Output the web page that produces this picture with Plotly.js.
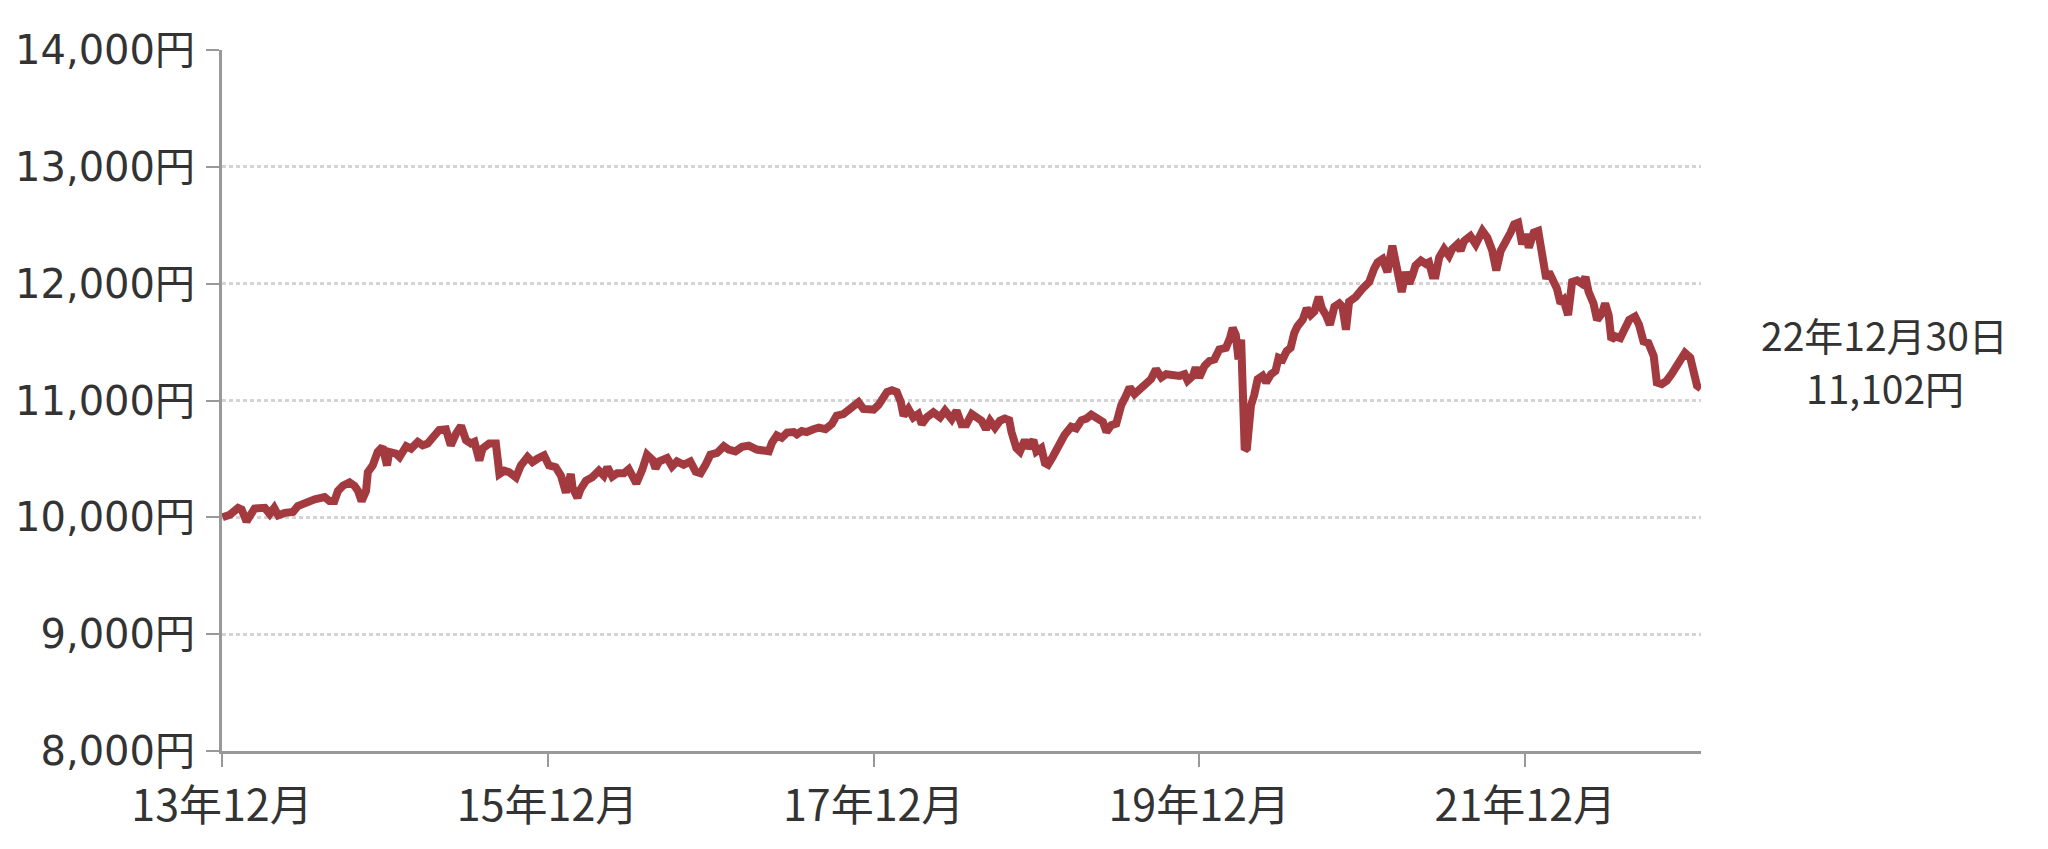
<!DOCTYPE html>
<html>
<head>
<meta charset="utf-8">
<script src="https://cdn.plot.ly/plotly-3.0.1.min.js"></script>
<style>
html,body{margin:0;padding:0;background:#fff;}
#chart{width:2048px;height:849px;}
</style>
</head>
<body>
<div id="chart"></div>
<script>
var dates = [
"2013-12-02","2013-12-19","2014-01-06","2014-01-14","2014-01-25","2014-02-02","2014-02-12","2014-03-07","2014-03-18","2014-03-28",
"2014-04-06","2014-04-21","2014-05-09","2014-05-20","2014-06-04","2014-06-27","2014-07-19","2014-07-30","2014-08-10","2014-08-18",
"2014-08-29","2014-09-13","2014-09-24","2014-10-02","2014-10-10","2014-10-20","2014-10-24","2014-11-04","2014-11-15","2014-11-26",
"2014-12-06","2014-12-11","2014-12-26","2015-01-03","2015-01-18","2015-01-29","2015-02-13","2015-02-24","2015-03-07","2015-03-22",
"2015-04-02","2015-04-17","2015-04-28","2015-05-10","2015-05-21","2015-06-01","2015-06-12","2015-06-20","2015-07-01","2015-07-08",
"2015-07-23","2015-08-07","2015-08-15","2015-08-26","2015-09-06","2015-09-21","2015-10-02","2015-10-17","2015-10-28","2015-11-08",
"2015-11-23","2015-12-04","2015-12-19","2015-12-31","2016-01-11","2016-01-22","2016-01-26","2016-02-06","2016-02-13","2016-02-25",
"2016-03-10","2016-03-25","2016-04-05","2016-04-13","2016-04-24","2016-05-05","2016-05-20","2016-05-31","2016-06-11","2016-06-17",
"2016-06-30","2016-07-11","2016-07-23","2016-07-30","2016-08-07","2016-08-25","2016-09-05","2016-09-16","2016-10-01","2016-10-16",
"2016-10-28","2016-11-08","2016-11-19","2016-11-30","2016-12-15","2016-12-30","2017-01-10","2017-01-25","2017-02-09","2017-02-24",
"2017-03-14","2017-03-29","2017-04-10","2017-04-17","2017-04-28","2017-05-09","2017-05-21","2017-06-05","2017-06-12","2017-06-23",
"2017-07-04","2017-07-19","2017-07-31","2017-08-15","2017-08-29","2017-09-09","2017-09-24","2017-10-09","2017-10-28","2017-11-08",
"2017-11-19","2017-12-01","2017-12-12","2017-12-23","2017-12-31","2018-01-11","2018-01-22","2018-01-31","2018-02-06","2018-02-17",
"2018-02-28","2018-03-11","2018-03-19","2018-03-30","2018-04-14","2018-04-29","2018-05-10","2018-05-25","2018-06-05","2018-06-16",
"2018-06-27","2018-07-09","2018-07-20","2018-07-31","2018-08-10","2018-08-19","2018-08-30","2018-09-10","2018-09-21","2018-10-01",
"2018-10-06","2018-10-17","2018-10-25","2018-11-05","2018-11-12","2018-11-24","2018-12-01","2018-12-12","2018-12-20","2018-12-27",
"2019-01-07","2019-01-22","2019-02-02","2019-02-17","2019-02-28","2019-03-12","2019-03-23","2019-04-03","2019-04-18","2019-04-29",
"2019-05-07","2019-05-18","2019-05-29","2019-06-02","2019-06-09","2019-06-20","2019-06-28","2019-07-09","2019-07-24","2019-08-04",
"2019-08-15","2019-08-26","2019-09-07","2019-09-18","2019-10-03","2019-10-18","2019-10-29","2019-11-05","2019-11-17","2019-11-23",
"2019-12-01","2019-12-13","2019-12-24","2020-01-04","2020-01-15","2020-01-30","2020-02-08","2020-02-14","2020-02-21","2020-02-27",
"2020-03-04","2020-03-06","2020-03-09","2020-03-12","2020-03-17","2020-03-21","2020-03-26","2020-04-02","2020-04-10","2020-04-21",
"2020-04-29","2020-05-10","2020-05-20","2020-05-27","2020-06-05","2020-06-14","2020-06-23","2020-07-01","2020-07-08","2020-07-20",
"2020-07-29","2020-08-07","2020-08-15","2020-08-25","2020-09-01","2020-09-10","2020-09-19","2020-09-29","2020-10-10","2020-10-17",
"2020-10-25","2020-11-01","2020-11-16","2020-12-01","2020-12-16","2020-12-27","2021-01-04","2021-01-15","2021-01-26","2021-02-06",
"2021-02-14","2021-02-21","2021-02-27","2021-03-08","2021-03-16","2021-03-23","2021-03-30","2021-04-11","2021-04-22","2021-04-29",
"2021-05-07","2021-05-14","2021-05-22","2021-06-02","2021-06-13","2021-06-20","2021-07-02","2021-07-09","2021-07-17","2021-07-31",
"2021-08-12","2021-08-27","2021-09-07","2021-09-18","2021-09-27","2021-10-07","2021-10-18","2021-10-29","2021-11-06","2021-11-15",
"2021-11-24","2021-12-01","2021-12-09","2021-12-20","2021-12-30","2022-01-04","2022-01-12","2022-01-17","2022-01-23","2022-02-01",
"2022-02-10","2022-02-18","2022-02-25","2022-03-07","2022-03-16","2022-03-27","2022-04-07","2022-04-15","2022-04-22","2022-05-03",
"2022-05-11","2022-05-22","2022-05-29","2022-06-06","2022-06-12","2022-06-21","2022-07-02","2022-07-13","2022-07-22","2022-08-04",
"2022-08-13","2022-08-23","2022-09-03","2022-09-15","2022-09-22","2022-10-03","2022-10-14","2022-10-25","2022-11-06","2022-11-17",
"2022-11-24","2022-12-06","2022-12-13","2022-12-21","2022-12-30"
];
var navValues = [
10000,10023,10081,10067,9965,10009,10075,10081,10029,10081,
10017,10038,10046,10096,10125,10154,10174,10139,10139,10226,
10270,10299,10270,10226,10139,10226,10386,10444,10560,10603,
10444,10560,10545,10516,10609,10588,10646,10617,10632,10704,
10748,10754,10617,10719,10783,10661,10632,10646,10487,10588,
10632,10632,10371,10400,10386,10342,10444,10516,10473,10501,
10530,10444,10429,10357,10212,10371,10255,10168,10241,10313,
10342,10400,10357,10429,10348,10377,10377,10412,10319,10290,
10406,10536,10493,10420,10478,10507,10435,10478,10449,10478,
10391,10377,10449,10536,10551,10609,10580,10565,10603,10614,
10580,10574,10565,10638,10701,10681,10725,10730,10710,10739,
10730,10754,10768,10754,10797,10870,10884,10928,10986,10928,
10933,10922,10962,11014,11072,11087,11072,10986,10870,10928,
10855,10884,10797,10855,10899,10855,10913,10841,10913,10797,
10797,10884,10855,10826,10754,10826,10768,10826,10845,10831,
10732,10592,10563,10662,10592,10662,10563,10592,10465,10451,
10521,10634,10704,10775,10761,10831,10845,10879,10845,10817,
10732,10789,10803,10873,10958,11042,11113,11056,11099,11141,
11183,11268,11197,11225,11211,11211,11225,11169,11211,11282,
11197,11296,11338,11352,11437,11451,11535,11620,11563,11352,
11521,11239,10986,10577,10592,10845,10958,11042,11183,11211,
11155,11225,11254,11366,11352,11423,11451,11577,11634,11690,
11789,11732,11761,11887,11789,11732,11648,11803,11831,11803,
11606,11845,11887,11958,12014,12127,12183,12211,12099,12324,
12141,12056,11930,12099,12000,12070,12155,12197,12169,12183,
12070,12070,12225,12296,12239,12296,12338,12282,12366,12408,
12338,12451,12394,12282,12113,12282,12352,12437,12507,12521,
12338,12423,12310,12437,12451,12310,12211,12042,12099,12028,
11958,11831,11859,11732,12014,12028,12000,12056,11930,11831,
11690,11746,11831,11732,11521,11549,11535,11620,11690,11718,
11648,11507,11493,11380,11155,11141,11169,11225,11296,11380,
11408,11366,11211,11127,11102
];
var xTickDates = ["2013-12-01","2015-12-01","2017-12-01","2019-12-01","2021-12-01"];
var xTickLabels = ["13年12月","15年12月","17年12月","19年12月","21年12月"];
var yTickValues = [8000,9000,10000,11000,12000,13000,14000];
var yTickLabels = ["8,000円","9,000円","10,000円","11,000円","12,000円","13,000円","14,000円"];
var endLabelDate = "22年12月30日";
var endLabelValue = "11,102円";

var trace = {
  x: dates, y: navValues, type: 'scatter', mode: 'lines',
  line: {color: '#a33a40', width: 8}, hoverinfo: 'skip', showlegend: false
};
var annFont = {family: 'Noto Sans CJK JP, sans-serif', size: 39, color: '#333333'};
var layout = {
  width: 2048, height: 849,
  margin: {l: 222, r: 347, t: 50, b: 98},
  paper_bgcolor: '#ffffff', plot_bgcolor: '#ffffff',
  xaxis: {
    type: 'date', range: ['2013-12-01', '2022-12-30'],
    tickmode: 'array', tickvals: xTickDates, ticktext: xTickLabels,
    showgrid: false, zeroline: false,
    showline: true, linecolor: '#999999', linewidth: 3,
    ticks: 'outside', ticklen: 13, tickwidth: 2, tickcolor: '#999999',
    ticklabelstandoff: 2,
    tickfont: {family: 'Noto Sans CJK JP, sans-serif', size: 43, color: '#333333'}
  },
  yaxis: {
    range: [8000, 14000],
    tickmode: 'array', tickvals: yTickValues, ticktext: yTickLabels,
    showgrid: true, gridcolor: '#d4d4d4', gridwidth: 3, griddash: '4px,3px',
    zeroline: false,
    showline: true, linecolor: '#999999', linewidth: 3,
    ticks: 'outside', ticklen: 13, tickwidth: 2, tickcolor: '#999999',
    ticklabelstandoff: 3,
    tickfont: {family: 'DejaVu Sans, Noto Sans CJK JP, sans-serif', size: 40, color: '#333333'}
  },
  annotations: [{
    xref: 'paper', yref: 'y', x: 1.1244, y: 11567,
    xanchor: 'center', yanchor: 'middle', showarrow: false,
    text: endLabelDate, font: annFont
  }, {
    xref: 'paper', yref: 'y', x: 1.1244, y: 11114,
    xanchor: 'center', yanchor: 'middle', showarrow: false,
    text: endLabelValue, font: annFont
  }]
};
Plotly.newPlot('chart', [trace], layout, {staticPlot: true, displayModeBar: false});
</script>
</body>
</html>
